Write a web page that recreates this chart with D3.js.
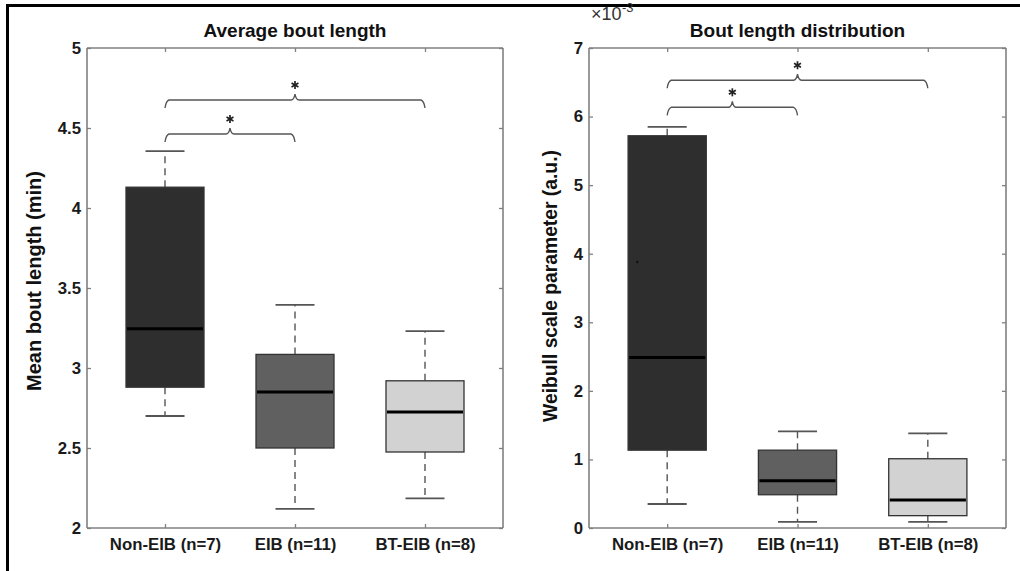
<!DOCTYPE html>
<html>
<head>
<meta charset="utf-8">
<script src="https://cdn.jsdelivr.net/npm/d3@7/dist/d3.min.js"></script>
<style>
  html, body { margin: 0; padding: 0; background: #fff; }
  svg { display: block; }
  text { font-family: "Liberation Sans", Arial, Helvetica, sans-serif; }
</style>
</head>
<body>
<svg id="chart" width="1020" height="571"></svg>
<script>
// ---------------- data ----------------
const categories = ["Non-EIB (n=7)", "EIB (n=11)", "BT-EIB (n=8)"];
const boxFills = ["#2e2e2e", "#606060", "#d2d2d2"];

// Panel A: Mean bout length (min)
const boutLow    = [2.70, 2.12, 2.185];
const boutQ1     = [2.88, 2.50, 2.475];
const boutMedian = [3.245, 2.85, 2.725];
const boutQ3     = [4.13, 3.085, 2.92];
const boutHigh   = [4.355, 3.395, 3.23];
const boutTicks  = [2, 2.5, 3, 3.5, 4, 4.5, 5];
const boutDomain = [2, 5];
const boutSigPairs  = [[0, 1], [0, 2]];
const boutSigLevels = [4.4625, 4.675];

// Panel B: Weibull scale parameter (x 10^-3)
const weibLow    = [0.35, 0.09, 0.09];
const weibQ1     = [1.135, 0.485, 0.18];
const weibMedian = [2.485, 0.69, 0.41];
const weibQ3     = [5.72, 1.135, 1.01];
const weibHigh   = [5.85, 1.41, 1.38];
const weibExtra  = [3.88];            // small marker inside Non-EIB box
const weibTicks  = [0, 1, 2, 3, 4, 5, 6, 7];
const weibDomain = [0, 7];
const weibSigPairs  = [[0, 1], [0, 2]];
const weibSigLevels = [6.135, 6.53];
const weibExponent = "-3";

// ---------------- drawing ----------------
const svg = d3.select("#chart");

svg.append("line").attr("x1", 7.5).attr("x2", 7.5).attr("y1", 4).attr("y2", 571)
  .attr("stroke", "#000").attr("stroke-width", 3);
svg.append("line").attr("x1", 6).attr("x2", 1020).attr("y1", 5.5).attr("y2", 5.5)
  .attr("stroke", "#000").attr("stroke-width", 3);

function panel(opt) {
  const g = svg.append("g");
  const x = d3.scalePoint().domain(categories).range([opt.x0, opt.x1]).padding(0.6);
  const y = d3.scaleLinear().domain(opt.domain).range([opt.y1, opt.y0]);
  const step = x.step();
  const boxHalf = step * 0.3;
  const capHalf = step * 0.15;

  const data = categories.map((c, i) => ({
    c, i, low: opt.low[i], q1: opt.q1[i], med: opt.med[i], q3: opt.q3[i], high: opt.high[i]
  }));

  const bx = g.append("g");
  data.forEach(d => {
    const cx = x(d.c);
    bx.append("line").attr("x1", cx).attr("x2", cx).attr("y1", y(d.q3)).attr("y2", y(d.high))
      .attr("stroke", "#555").attr("stroke-width", 1.4).attr("stroke-dasharray", "7,5");
    bx.append("line").attr("x1", cx).attr("x2", cx).attr("y1", y(d.q1)).attr("y2", y(d.low))
      .attr("stroke", "#555").attr("stroke-width", 1.4).attr("stroke-dasharray", "7,5");
    [d.high, d.low].forEach(v => {
      bx.append("line").attr("x1", cx - capHalf).attr("x2", cx + capHalf)
        .attr("y1", y(v)).attr("y2", y(v))
        .attr("stroke", "#555").attr("stroke-width", 1.8);
    });
    bx.append("rect").attr("x", cx - boxHalf).attr("width", 2 * boxHalf)
      .attr("y", y(d.q3)).attr("height", y(d.q1) - y(d.q3))
      .attr("fill", boxFills[d.i]).attr("stroke", "#333").attr("stroke-width", 1.3);
    bx.append("line").attr("x1", cx - boxHalf + 1).attr("x2", cx + boxHalf - 1)
      .attr("y1", y(d.med)).attr("y2", y(d.med))
      .attr("stroke", "#000").attr("stroke-width", 3);
  });

  if (opt.extra) {
    opt.extra.forEach(v => {
      bx.append("circle").attr("cx", x(categories[0]) - step * 0.23).attr("cy", y(v))
        .attr("r", 1.2).attr("fill", "#111");
    });
  }

  const axisColor = "#808080";
  const fmt = d => String(d);
  const left = g.append("g").attr("transform", `translate(${opt.x0},0)`)
    .call(d3.axisLeft(y).tickValues(opt.ticks).tickFormat(fmt).tickSizeInner(-4).tickSizeOuter(0).tickPadding(6));
  const right = g.append("g").attr("transform", `translate(${opt.x1},0)`)
    .call(d3.axisRight(y).tickValues(opt.ticks).tickFormat("").tickSizeInner(-4).tickSizeOuter(0));
  const bottom = g.append("g").attr("transform", `translate(0,${opt.y1})`)
    .call(d3.axisBottom(x).tickSizeInner(-4).tickSizeOuter(0).tickPadding(10));
  const top = g.append("g").attr("transform", `translate(0,${opt.y0})`)
    .call(d3.axisTop(x).tickFormat("").tickSizeInner(-4).tickSizeOuter(0));
  [left, right, bottom, top].forEach(a => {
    a.select(".domain").attr("stroke", axisColor).attr("stroke-width", 1.6);
    a.selectAll(".tick line").attr("stroke", axisColor).attr("stroke-width", 1.3);
  });
  left.select(".domain").attr("d", `M0,${opt.y1}V${opt.y0}`);
  right.select(".domain").attr("d", `M0,${opt.y1}V${opt.y0}`);
  bottom.select(".domain").attr("d", `M${opt.x0},0H${opt.x1}`);
  top.select(".domain").attr("d", `M${opt.x0},0H${opt.x1}`);

  left.selectAll(".tick text").attr("font-size", 16.8).attr("font-weight", "bold")
    .attr("fill", "#1a1a1a").attr("font-family", "Liberation Sans, Arial, sans-serif");
  bottom.selectAll(".tick text").attr("font-size", 16.8).attr("font-weight", "bold")
    .attr("fill", "#1a1a1a").attr("font-family", "Liberation Sans, Arial, sans-serif");

  g.append("text").attr("x", (opt.x0 + opt.x1) / 2).attr("y", 37)
    .attr("text-anchor", "middle").attr("font-size", 19).attr("font-weight", "bold")
    .attr("fill", "#111").text(opt.title);
  g.append("text")
    .attr("transform", `translate(${opt.ylabelX},${opt.ylabelY}) rotate(-90)`)
    .attr("text-anchor", "middle").attr("dy", "0.35em")
    .attr("font-size", opt.ylabelSize).attr("font-weight", "bold").attr("fill", "#111")
    .text(opt.ylabel);

  if (opt.exponent) {
    g.append("text").attr("x", opt.x0 + 2).attr("y", 20)
      .attr("font-size", 18).attr("fill", "#333").text("\u00d710");
    g.append("text").attr("x", opt.x0 + 33).attr("y", 12)
      .attr("font-size", 13).attr("fill", "#333").text(opt.exponent);
  }

  const br = g.append("g");
  opt.pairs.forEach((p, k) => {
    const xa = x(categories[p[0]]), xb = x(categories[p[1]]);
    const yl = y(opt.levels[k]);
    const xm = (xa + xb) / 2;
    const drop = 8, peak = 6;
    const path = `M${xa},${yl + drop} Q${xa + 1},${yl + 1} ${xa + 4},${yl}` +
      ` L${xm - 4},${yl} Q${xm - 1},${yl} ${xm},${yl - peak}` +
      ` Q${xm + 1},${yl} ${xm + 4},${yl} L${xb - 4},${yl}` +
      ` Q${xb - 1},${yl + 1} ${xb},${yl + drop}`;
    br.append("path").attr("d", path).attr("fill", "none")
      .attr("stroke", "#555").attr("stroke-width", 1.4);
    const ay = yl - 15, r = 4;
    [90, 30, 150].forEach(a => {
      const rad = a * Math.PI / 180;
      br.append("line")
        .attr("x1", xm - r * Math.cos(rad)).attr("y1", ay - r * Math.sin(rad))
        .attr("x2", xm + r * Math.cos(rad)).attr("y2", ay + r * Math.sin(rad))
        .attr("stroke", "#222").attr("stroke-width", 1.7);
    });
  });
  return g;
}

panel({
  x0: 87, x1: 503, y0: 48, y1: 528, domain: boutDomain, ticks: boutTicks,
  low: boutLow, q1: boutQ1, med: boutMedian, q3: boutQ3, high: boutHigh,
  title: "Average bout length", ylabel: "Mean bout length (min)",
  ylabelX: 34, ylabelY: 281, ylabelSize: 20,
  pairs: boutSigPairs, levels: boutSigLevels
});

panel({
  x0: 589, x1: 1006, y0: 48, y1: 528, domain: weibDomain, ticks: weibTicks,
  low: weibLow, q1: weibQ1, med: weibMedian, q3: weibQ3, high: weibHigh, extra: weibExtra,
  title: "Bout length distribution", ylabel: "Weibull scale parameter (a.u.)",
  ylabelX: 550, ylabelY: 286, ylabelSize: 19.3, exponent: weibExponent,
  pairs: weibSigPairs, levels: weibSigLevels
});
</script>
</body>
</html>
